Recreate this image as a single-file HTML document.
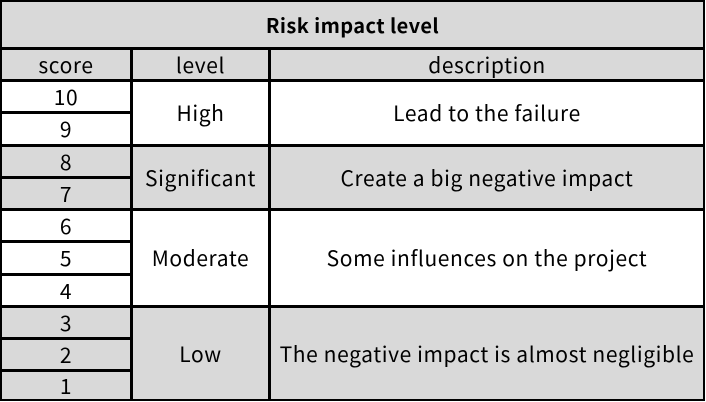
<!DOCTYPE html>
<html><head><meta charset="utf-8"><style>
body{margin:0;width:706px;height:402px;overflow:hidden;background:#fff;font-family:"Noto Sans CJK SC","Liberation Sans",sans-serif;}
.c{position:absolute;box-sizing:border-box;border:2px solid #000;display:flex;align-items:center;justify-content:center;font-size:21px;letter-spacing:0.6px;color:#000;margin:-1px 0 0 -1px;white-space:nowrap;}
.g{background:#d9d9d9}
</style></head><body>
<div id="t"></div>
<script>
const ys=[0,48,80,112,145,177,209,241,274,306,338,370,402];
const xs=[0,131,269,706];
const root=document.getElementById('t');
function cell(x0,x1,r0,r1,text,gray,bold,name){
 const d=document.createElement('div');
 d.className='c'+(gray?' g':'');
 d.style.left=(xs[x0]+1)+'px';d.style.top=(ys[r0]+1)+'px';
 d.style.width=(xs[x1]-xs[x0]+ (x1==3?-1:1))+'px';
 d.style.height=(ys[r1]-ys[r0]+(r1==12?-1:1))+'px';
 if(bold){d.style.fontWeight='bold';d.style.fontSize='20px';d.style.letterSpacing='0.4px';}
 d.textContent=text;
 
 
 root.appendChild(d);
}
cell(0,3,0,1,'Risk impact level',true,true,'table-title');
cell(0,1,1,2,'score',true,false,'header-score');
cell(1,2,1,2,'level',true,false,'header-level');
cell(2,3,1,2,'description',true,false,'header-description');
const groups=[
 {scores:['10','9'],level:'High',desc:'Lead to the failure',gray:false},
 {scores:['8','7'],level:'Significant',desc:'Create a big negative impact',gray:true},
 {scores:['6','5','4'],level:'Moderate',desc:'Some influences on the project',gray:false},
 {scores:['3','2','1'],level:'Low',desc:'The negative impact is almost negligible',gray:true}
];
let r=2;
groups.forEach(g=>{
 g.scores.forEach((s,i)=>cell(0,1,r+i,r+i+1,s,g.gray,false,'score-'+s));
 cell(1,2,r,r+g.scores.length,g.level,g.gray,false,'level-'+g.level.toLowerCase());
 cell(2,3,r,r+g.scores.length,g.desc,g.gray,false,'description-'+g.level.toLowerCase());
 r+=g.scores.length;
});
</script>
</body></html>
